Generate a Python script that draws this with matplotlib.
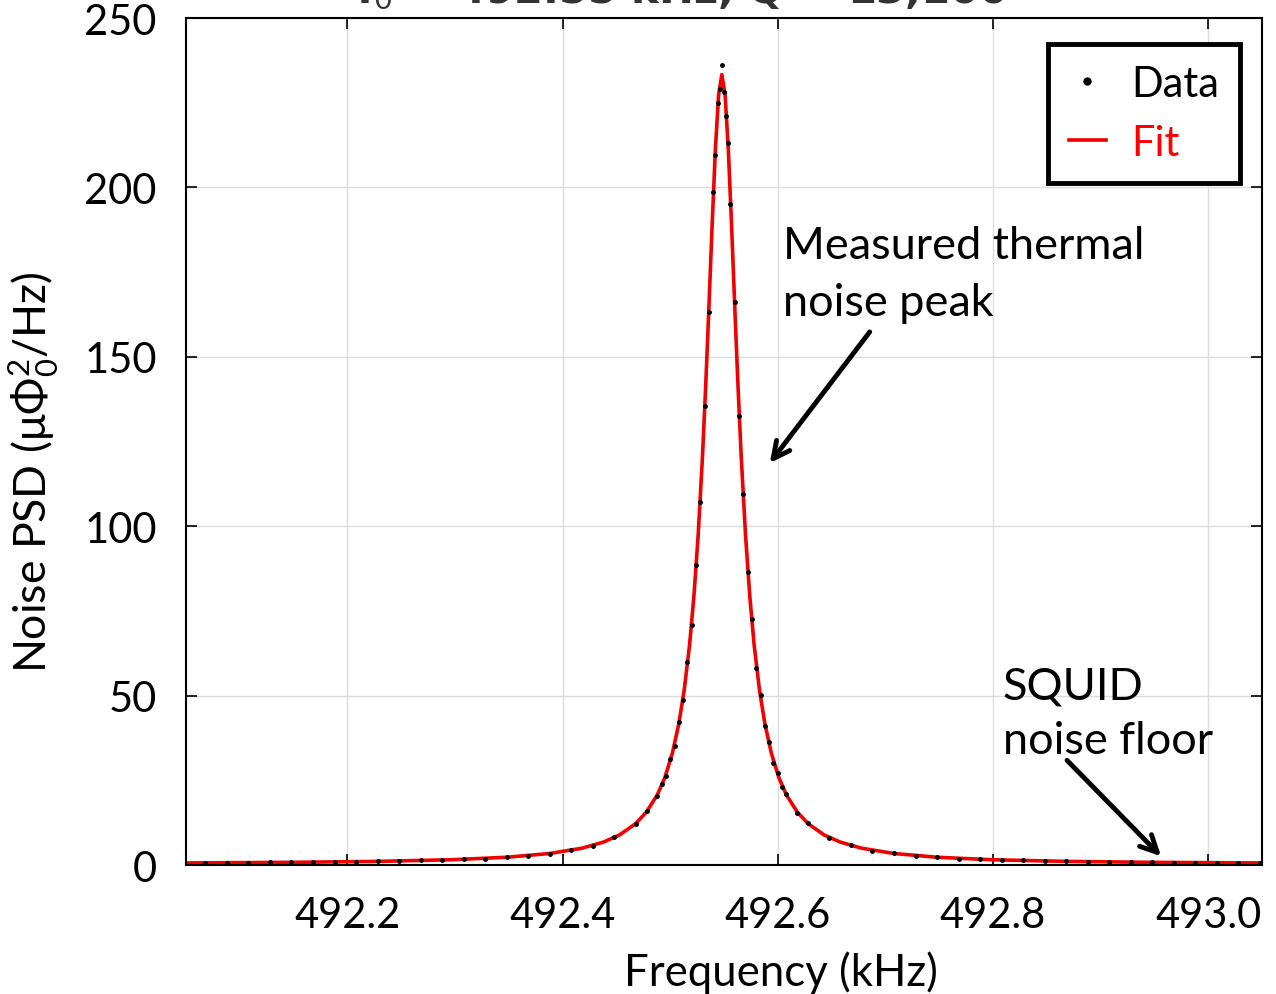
import matplotlib
matplotlib.use("Agg")
import matplotlib.pyplot as plt
import numpy as np

plt.rcParams['font.family'] = ['Lato', 'DejaVu Sans']
plt.rcParams['mathtext.fontset'] = 'custom'
plt.rcParams['mathtext.rm'] = 'Lato'
plt.rcParams['mathtext.it'] = 'Lato:italic'

# centre frequency of the peak (kHz)
f0 = 492.548

# measured points: offset from f0 (kHz) and PSD
dataOffset = [-0.500, -0.480, -0.460, -0.440, -0.420, -0.400, -0.380, -0.360, -0.340, -0.320,
              -0.300, -0.280, -0.260, -0.240, -0.220, -0.200, -0.180, -0.160, -0.140, -0.120,
              -0.100, -0.080, -0.070, -0.060, -0.056, -0.052, -0.048, -0.044, -0.040, -0.036,
              -0.032, -0.028, -0.024, -0.020, -0.016, -0.012, -0.008, -0.006, -0.004, -0.002,
              0.000, 0.002, 0.004, 0.006, 0.008, 0.012, 0.016, 0.020, 0.024, 0.028,
              0.032, 0.036, 0.040, 0.044, 0.048, 0.052, 0.056, 0.060, 0.070, 0.080,
              0.100, 0.120, 0.140, 0.160, 0.180, 0.200, 0.220, 0.240, 0.260, 0.280,
              0.300, 0.320, 0.340, 0.360, 0.380, 0.400, 0.420, 0.440, 0.460, 0.480, 0.500]
dataPSD = [0.6, 0.7, 0.6, 0.75, 0.8, 0.78, 0.9, 0.95, 1.0, 1.1,
           1.2, 1.35, 1.5, 1.7, 1.9, 2.35, 2.8, 3.4, 4.4, 5.7,
           8.2, 12.0, 15.9, 20.5, 23.8, 26.3, 31.2, 35.0, 42.3, 48.8,
           59.9, 70.8, 88.6, 107.1, 135.4, 163.2, 198.5, 209.5, 224.8, 229.0,
           236.0, 228.1, 221.2, 213.0, 195.1, 166.3, 132.6, 109.5, 86.5, 72.6,
           58.3, 50.1, 41.0, 36.2, 30.1, 27.2, 23.0, 21.0, 15.5, 12.4,
           7.9, 5.9, 4.2, 3.5, 2.7, 2.3, 1.9, 1.7, 1.45, 1.35,
           1.15, 1.1, 0.95, 0.9, 0.85, 0.8, 0.75, 0.7, 0.7, 0.65, 0.6]

# fitted curve
fitOffset = [-0.500, -0.400, -0.320, -0.250, -0.200, -0.160, -0.130, -0.110, -0.095, -0.080,
             -0.070, -0.060, -0.053, -0.046, -0.040, -0.035, -0.030, -0.026, -0.022, -0.018,
             -0.015, -0.012, -0.009, -0.006, -0.003, 0.000, 0.003, 0.006, 0.009, 0.012,
             0.015, 0.018, 0.022, 0.026, 0.030, 0.035, 0.040, 0.046, 0.053, 0.060,
             0.070, 0.080, 0.095, 0.110, 0.130, 0.160, 0.200, 0.250, 0.320, 0.400, 0.500]
fitPSD = [0.62, 0.80, 1.08, 1.58, 2.3, 3.41, 4.97, 6.78, 8.9, 12.25,
          15.7, 20.7, 25.8, 33.0, 41.7, 51.6, 65.0, 79.2, 97.4, 120.6,
          141.5, 164.8, 189.1, 211.3, 227.4, 233.3, 227.4, 211.3, 189.1, 164.8,
          141.5, 120.6, 97.4, 79.2, 65.0, 51.6, 41.7, 33.0, 25.8, 20.7,
          15.7, 12.25, 8.9, 6.78, 4.97, 3.41, 2.3, 1.58, 1.08, 0.80, 0.62]

dataFreq = f0 + np.array(dataOffset)
fitFreq = f0 + np.array(fitOffset)

fig = plt.figure(figsize=(12.76, 9.95), dpi=100)
ax = fig.add_axes([0.1458, 0.1296, 0.8432, 0.8513])

ax.plot(dataFreq, dataPSD, 'k.', markersize=5, label='Data', zorder=3)
ax.plot(fitFreq, fitPSD, color='#ee0000', linewidth=2.6, label='Fit', zorder=2)

ax.set_xlim(492.05, 493.05)
ax.set_ylim(0, 250)
ax.set_xticks([492.2, 492.4, 492.6, 492.8, 493.0])
ax.set_xticklabels(['492.2', '492.4', '492.6', '492.8', '493.0'])
ax.set_yticks([0, 50, 100, 150, 200, 250])

ax.grid(True, color='#dcdcdc', linewidth=1)
ax.set_axisbelow(True)
ax.tick_params(direction='in', length=8, width=1.2, top=True, right=True,
               labelsize=30)
ax.tick_params(axis='x', pad=22)
ax.tick_params(axis='y', pad=21)
for s in ax.spines.values():
    s.set_linewidth(1.5)

ax.set_xlabel('Frequency (kHz)', fontsize=31.5)
ax.xaxis.set_label_coords(0.553, -0.101)
ax.set_ylabel(r'Noise PSD (μΦ$_0^2$/Hz)', fontsize=32)
ax.yaxis.set_label_coords(-0.116, 0.465)

leg = ax.legend(loc='upper right', fontsize=30, labelcolor=['black', 'red'],
                fancybox=False, framealpha=1, edgecolor='black',
                borderpad=0.5, handlelength=0.9, handletextpad=0.6,
                markerscale=2.0, borderaxespad=0,
                bbox_to_anchor=(0.9796, 0.9693))
leg.get_frame().set_linewidth(3.5)

# annotations
ax.text(492.605, 189, 'Measured thermal\nnoise peak', fontsize=32.5, va='top',
        ha='left', linespacing=1.48)
ax.annotate('', xy=(492.591, 118.0), xytext=(492.687, 158.0),
            arrowprops=dict(arrowstyle='->', color='black', lw=3.5,
                            mutation_scale=30))
ax.text(492.809, 59, 'SQUID\nnoise floor', fontsize=32.5, va='top',
        ha='left', linespacing=1.42)
ax.annotate('', xy=(492.958, 2.0), xytext=(492.867, 31.5),
            arrowprops=dict(arrowstyle='->', color='black', lw=3.5,
                            mutation_scale=30))

# title is cut off at the top edge of the image
fig.text(0.534, 0.997, r'f$_0$ = 492.55 kHz, Q = 13,100', fontsize=30,
         ha='center', va='baseline', color='#333333', fontweight='bold',
         family=['DejaVu Sans'])

fig.savefig('out.png', dpi=100)
